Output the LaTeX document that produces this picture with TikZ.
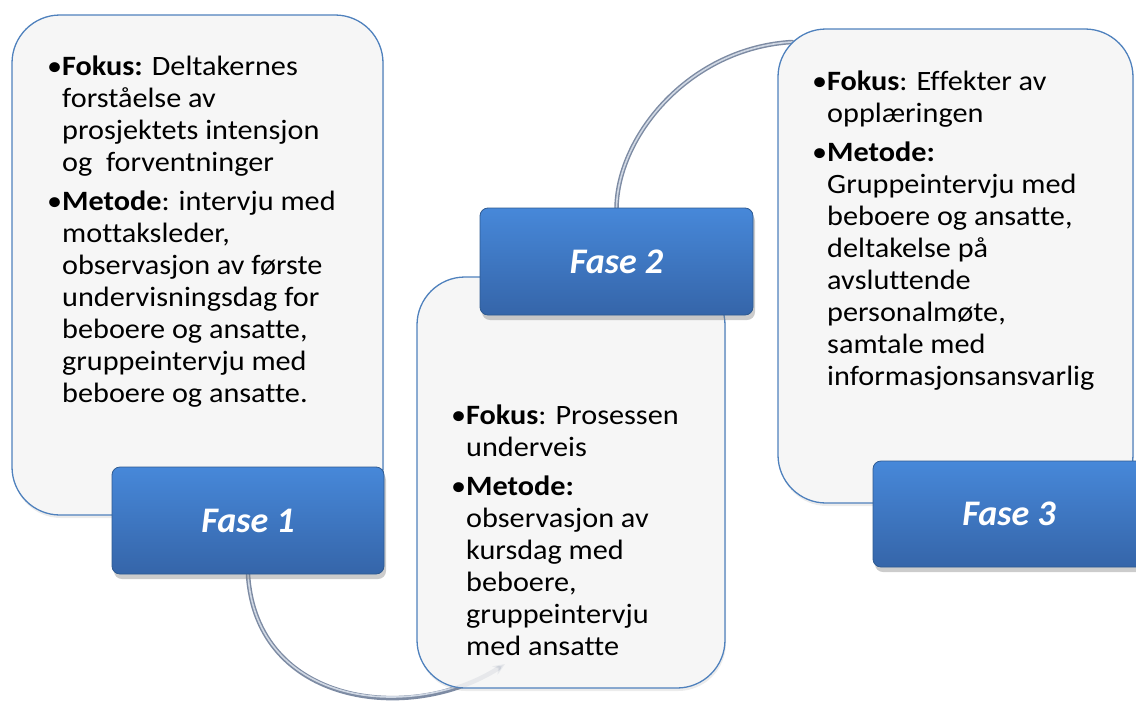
\documentclass[tikz,border=0pt]{standalone}
\usepackage{fontspec}
\setmainfont{Carlito}
\newfontfamily\bodyfont{Carlito}[FakeStretch=1.08, Ligatures=NoCommon]
\usetikzlibrary{shadows,arrows.meta}
\definecolor{boxfill}{HTML}{F6F6F6}
\definecolor{boxline}{HTML}{4F81BD}
\definecolor{fasetop}{HTML}{4788D9}
\definecolor{fasebot}{HTML}{3565A9}
\definecolor{faseline}{HTML}{2E5A91}
\definecolor{arcdark}{HTML}{7D8BA3}
\definecolor{arclight}{HTML}{D0D8E4}
\pgfdeclarelayer{background}
\pgfsetlayers{background,main}
\tikzset{
 infobox/.style={draw=boxline, line width=1.3pt, fill=boxfill, rounded corners=48pt, inner sep=0pt,
   drop shadow={opacity=0.15, shadow xshift=1pt, shadow yshift=-3pt}},
 fasebox/.style={draw=faseline, line width=0.8pt, rounded corners=8pt, top color=fasetop, bottom color=fasebot, inner sep=0pt,
   drop shadow={opacity=0.4, shadow xshift=2pt, shadow yshift=-5pt},
   font=\fontsize{36}{40}\selectfont\bfseries\itshape, text=white},
 bodytext/.style={anchor=north west, inner sep=0pt, align=left, font=\bodyfont\fontsize{28}{32}\selectfont, text=black},
 arcline/.style={line width=4.5pt, draw=arcdark, line cap=round},
 archigh/.style={line width=1.6pt, draw=arclight, line cap=round},
}
\newcommand{\bul}{\llap{•}}
\begin{document}
\begin{tikzpicture}[x=1pt,y=-1pt]
\useasboundingbox (0,0) rectangle (1136,702);
\node[infobox, minimum width=371pt, minimum height=500pt] (b1) at (197.5,265) {};
\node[infobox, minimum width=308pt, minimum height=411pt] (b2) at (571,482.5) {};
\node[infobox, minimum width=355pt, minimum height=474pt] (b3) at (955.5,266) {};
\node[fasebox, minimum width=272pt, minimum height=107pt] (f1) at (248,520.5) {Fase 1};
\node[fasebox, minimum width=273pt, minimum height=107pt] (f2) at (616.5,261.5) {Fase 2};
\node[fasebox, minimum width=272pt, minimum height=106pt] (f3) at (1009,514) {Fase 3};
\node[bodytext] (t1) at (62,56) {\bul\textbf{Fokus:} Deltakernes\\forståelse av\\prosjektets intensjon\\og\ \ forventninger\\[7pt]
\bul\textbf{Metode}: intervju med\\mottaksleder,\\observasjon av første\\undervisningsdag for\\beboere og ansatte,\\gruppeintervju med\\beboere og ansatte.};
\node[bodytext] (t2) at (466,405) {\bul\textbf{Fokus}: Prosessen\\underveis\\[7pt]
\bul\textbf{Metode:}\\observasjon av\\kursdag med\\beboere,\\gruppeintervju\\med ansatte};
\node[bodytext] (t3) at (827,71) {\bul\textbf{Fokus}: Effekter av\\opplæringen\\[7pt]
\bul\textbf{Metode:}\\Gruppeintervju med\\beboere og ansatte,\\deltakelse på\\avsluttende\\personalmøte,\\samtale med\\informasjonsansvarlig};
\coordinate (e1) at (505,664);
\coordinate (e2) at (792,42);
\begin{pgfonlayer}{background}
\draw[arcline, -{Stealth[length=12pt,width=10pt]}] (f1.south) .. controls (256,705) and (410,725) .. (e1);
\draw[archigh] (f1.south) .. controls (256,705) and (410,725) .. (e1);
\draw[arcline] (f2.north) .. controls (618,135) and (690,48) .. (e2);
\draw[archigh] (f2.north) .. controls (618,135) and (690,48) .. (e2);
\end{pgfonlayer}
\begin{scope}
\clip (b2.south west) rectangle (b2.north east);
\draw[arcline, opacity=0.12, -{Stealth[length=12pt,width=10pt]}] (f1.south) .. controls (256,705) and (410,725) .. (e1);
\end{scope}
\end{tikzpicture}
\end{document}
